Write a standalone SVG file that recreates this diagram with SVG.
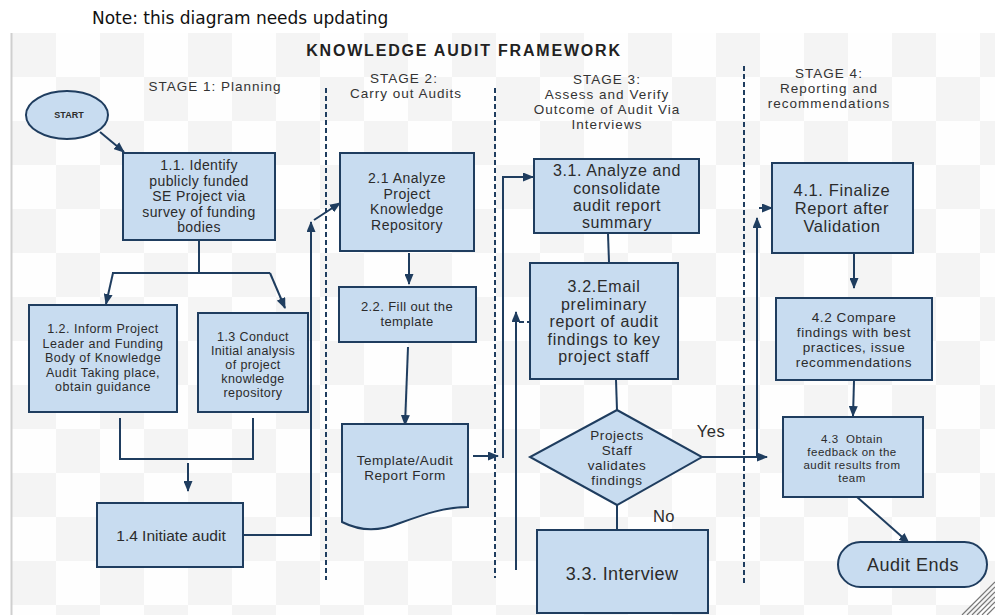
<svg xmlns="http://www.w3.org/2000/svg" width="995" height="615" viewBox="0 0 995 615">
<style>
.box{fill:#c8dcf0;stroke:#1f3d5f;stroke-width:2}
.t{font-family:"Liberation Sans",Arial,sans-serif;fill:#2b2b2b;text-anchor:middle}
.c{fill:none;stroke:#1f3d5f;stroke-width:2}
.dash{fill:none;stroke:#1f3d5f;stroke-width:2;stroke-dasharray:5 3}
.stage{font-family:"Liberation Sans",Arial,sans-serif;fill:#333;text-anchor:middle;font-size:13.5px;letter-spacing:1px}
</style>
<defs>
<pattern id="chk" x="12" y="33" width="88" height="88" patternUnits="userSpaceOnUse">
<rect width="88" height="88" fill="#fefefe"/>
<rect width="44" height="44" fill="#f4f4f4"/>
<rect x="44" y="44" width="44" height="44" fill="#f4f4f4"/>
</pattern>
<marker id="ah" markerUnits="userSpaceOnUse" markerWidth="11" markerHeight="9" refX="10" refY="4.5" orient="auto">
<path d="M0,0 L11,4.5 L0,9 z" fill="#1f3d5f"/>
</marker>
</defs>
<rect width="995" height="615" fill="#fff"/>
<rect x="12" y="33" width="983" height="582" fill="url(#chk)"/>
<line x1="11.5" y1="33" x2="11.5" y2="615" stroke="#cfcfcf" stroke-width="2"/>
<text x="92" y="24" font-family="DejaVu Sans,Verdana,sans-serif" font-size="17" fill="#111">Note: this diagram needs updating</text>
<text x="464" y="56" font-family="Liberation Sans,Arial,sans-serif" font-size="16" font-weight="bold" fill="#222" text-anchor="middle" letter-spacing="1.8">KNOWLEDGE AUDIT FRAMEWORK</text>
<g id="stages">
<text class="stage" x="215" y="91">STAGE 1: Planning</text>
<text class="stage" x="404" y="83">STAGE 2:</text>
<text class="stage" x="406" y="98">Carry out Audits</text>
<text class="stage" x="607" y="84">STAGE 3:</text>
<text class="stage" x="607" y="99">Assess and Verify</text>
<text class="stage" x="607" y="114">Outcome of Audit Via</text>
<text class="stage" x="607" y="129">Interviews</text>
<text class="stage" x="829" y="78">STAGE 4:</text>
<text class="stage" x="829" y="93">Reporting and</text>
<text class="stage" x="829" y="108">recommendations</text>
<line class="dash" x1="326" y1="88" x2="326" y2="580"/>
<line class="dash" x1="495" y1="88" x2="495" y2="578"/>
<line class="dash" x1="744" y1="66" x2="744" y2="584"/>
</g>
<g id="connectors">
<line class="c" x1="100" y1="132" x2="124" y2="152" marker-end="url(#ah)"/>
<path class="c" d="M199,240 V273 M112,273 H270"/>
<line class="c" x1="113" y1="273" x2="106" y2="304" marker-end="url(#ah)"/>
<line class="c" x1="270" y1="273" x2="285" y2="308" marker-end="url(#ah)"/>
<path class="c" d="M120,418 V459 H253 V418"/>
<line class="c" x1="188" y1="463" x2="188" y2="491" marker-end="url(#ah)"/>
<path class="c" d="M243,535 H311 V222" marker-end="url(#ah)"/>
<line class="c" x1="314" y1="220" x2="340" y2="203" marker-end="url(#ah)"/>
<line class="c" x1="409" y1="253" x2="409" y2="284" marker-end="url(#ah)"/>
<line class="c" x1="408" y1="347" x2="405" y2="425" marker-end="url(#ah)"/>
<line class="c" x1="473" y1="456" x2="498" y2="456" marker-end="url(#ah)"/>
<path class="c" d="M503,458 V177 H533" marker-end="url(#ah)"/>
<line class="c" x1="516" y1="570" x2="516" y2="312" marker-end="url(#ah)"/>
<line class="dash" x1="519" y1="322" x2="541" y2="322" marker-end="url(#ah)"/>
<line class="c" x1="608" y1="234" x2="609" y2="262"/>
<line class="c" x1="616" y1="380" x2="617" y2="410"/>
<line class="c" x1="702" y1="457" x2="767" y2="457" marker-end="url(#ah)"/>
<line class="c" x1="757" y1="458" x2="757" y2="218" marker-end="url(#ah)"/>
<line class="c" x1="759" y1="208" x2="772" y2="208" marker-end="url(#ah)"/>
<line class="c" x1="617" y1="505" x2="617" y2="530"/>
<line class="c" x1="854" y1="254" x2="854" y2="288" marker-end="url(#ah)"/>
<line class="c" x1="854" y1="381" x2="853" y2="416" marker-end="url(#ah)"/>
<line class="c" x1="857" y1="497" x2="909" y2="543" marker-end="url(#ah)"/>
</g>
<g id="start">
<ellipse class="box" cx="67" cy="115" rx="41" ry="24"/>
<text class="t" x="69" y="118" font-size="9" font-weight="bold" fill="#444">START</text>
</g>
<g id="n11">
<rect class="box" x="123" y="153" width="152" height="87"/>
<text class="t" font-size="14" letter-spacing="0.4"><tspan x="199" y="170">1.1. Identify</tspan><tspan x="199" y="185.5">publicly funded</tspan><tspan x="199" y="201">SE Project via</tspan><tspan x="199" y="216.5">survey of funding</tspan><tspan x="199" y="232">bodies</tspan></text>
</g>
<g id="n12">
<rect class="box" x="29" y="305" width="148" height="107"/>
<text class="t" font-size="12.5" letter-spacing="0.5"><tspan x="103" y="333">1.2. Inform Project</tspan><tspan x="103" y="347.5">Leader and Funding</tspan><tspan x="103" y="362">Body of Knowledge</tspan><tspan x="103" y="376.5">Audit Taking place,</tspan><tspan x="103" y="391">obtain guidance</tspan></text>
</g>
<g id="n13">
<rect class="box" x="198" y="313" width="110" height="99"/>
<text class="t" font-size="12.5" letter-spacing="0.4"><tspan x="253" y="341">1.3 Conduct</tspan><tspan x="253" y="355">Initial analysis</tspan><tspan x="253" y="369">of project</tspan><tspan x="253" y="383">knowledge</tspan><tspan x="253" y="397">repository</tspan></text>
</g>
<g id="n14">
<rect class="box" x="97" y="503" width="146" height="64"/>
<text class="t" font-size="15.5" x="171" y="541">1.4 Initiate audit</text>
</g>
<g id="n21">
<rect class="box" x="340" y="153" width="134" height="98"/>
<text class="t" font-size="14" letter-spacing="0.5"><tspan x="407" y="183">2.1 Analyze</tspan><tspan x="407" y="198.5">Project</tspan><tspan x="407" y="214">Knowledge</tspan><tspan x="407" y="229.5">Repository</tspan></text>
</g>
<g id="n22">
<rect class="box" x="339" y="287" width="137" height="55"/>
<text class="t" font-size="13" letter-spacing="0.4"><tspan x="407" y="311">2.2. Fill out the</tspan><tspan x="407" y="326">template</tspan></text>
</g>
<g id="doc">
<path class="box" d="M342,424 H468 V507 C445,507 425,514 400,523 C380,531 362,532 342,522 Z"/>
<text class="t" font-size="13.5" letter-spacing="0.5"><tspan x="405" y="465">Template/Audit</tspan><tspan x="405" y="480">Report Form</tspan></text>
</g>
<g id="n31">
<rect class="box" x="534" y="159" width="165" height="74"/>
<text class="t" font-size="16" letter-spacing="0.6"><tspan x="617" y="176">3.1. Analyze and</tspan><tspan x="617" y="193.5">consolidate</tspan><tspan x="617" y="211">audit report</tspan><tspan x="617" y="228">summary</tspan></text>
</g>
<g id="n32">
<rect class="box" x="530" y="263" width="148" height="116"/>
<text class="t" font-size="16" letter-spacing="0.7"><tspan x="604" y="292">3.2.Email</tspan><tspan x="604" y="309.5">preliminary</tspan><tspan x="604" y="327">report of audit</tspan><tspan x="604" y="344.5">findings to key</tspan><tspan x="604" y="362">project staff</tspan></text>
</g>
<g id="decision">
<path class="box" d="M617,410 L702,457 L617,505 L530,457 Z"/>
<text class="t" font-size="13.5" letter-spacing="0.6"><tspan x="617" y="440">Projects</tspan><tspan x="617" y="455">Staff</tspan><tspan x="617" y="470">validates</tspan><tspan x="617" y="485">findings</tspan></text>
<text class="t" font-size="16.5" letter-spacing="0.5" x="711" y="437">Yes</text>
<text class="t" font-size="16.5" letter-spacing="0.5" x="664" y="522">No</text>
</g>
<g id="n33">
<rect class="box" x="537" y="530" width="171" height="83"/>
<text class="t" font-size="18" letter-spacing="0.4" x="622" y="580">3.3. Interview</text>
</g>
<g id="n41">
<rect class="box" x="772" y="163" width="141" height="90"/>
<text class="t" font-size="16.5" letter-spacing="0.6"><tspan x="842" y="196">4.1. Finalize</tspan><tspan x="842" y="214">Report after</tspan><tspan x="842" y="232">Validation</tspan></text>
</g>
<g id="n42">
<rect class="box" x="776" y="298" width="156" height="82"/>
<text class="t" font-size="13.5" letter-spacing="0.6"><tspan x="854" y="322">4.2 Compare</tspan><tspan x="854" y="337">findings with best</tspan><tspan x="854" y="352">practices, issue</tspan><tspan x="854" y="367">recommendations</tspan></text>
</g>
<g id="n43">
<rect class="box" x="783" y="417" width="140" height="80"/>
<text class="t" font-size="11.5" letter-spacing="0.5" style="white-space:pre"><tspan x="852" y="443">4.3  Obtain</tspan><tspan x="852" y="456">feedback on the</tspan><tspan x="852" y="469">audit results from</tspan><tspan x="852" y="482">team</tspan></text>
</g>
<g id="end">
<rect class="box" x="838" y="542" width="149" height="45" rx="22.5"/>
<text class="t" font-size="18" letter-spacing="0.5" x="913" y="571">Audit Ends</text>
</g>
<g id="grip" stroke="#777" stroke-width="1.2">
<line x1="962" y1="615" x2="995" y2="582"/>
<line x1="967" y1="615" x2="995" y2="587"/>
<line x1="972" y1="615" x2="995" y2="592"/>
<line x1="977" y1="615" x2="995" y2="597"/>
<line x1="982" y1="615" x2="995" y2="602"/>
<line x1="987" y1="615" x2="995" y2="607"/>
</g>
</svg>
